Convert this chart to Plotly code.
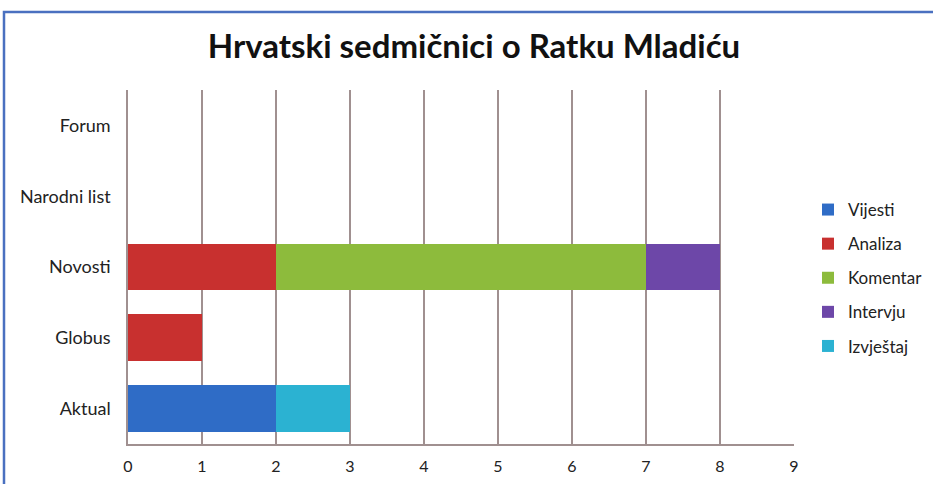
import plotly.graph_objects as go

categories = ["Aktual", "Globus", "Novosti", "Narodni list", "Forum"]
series_names = ["Vijesti", "Analiza", "Komentar", "Intervju", "Izvještaj"]
vijesti = [2, 0, 0, 0, 0]
analiza = [0, 1, 2, 0, 0]
komentar = [0, 0, 5, 0, 0]
intervju = [0, 0, 1, 0, 0]
izvjestaj = [1, 0, 0, 0, 0]
x_ticks = [0, 1, 2, 3, 4, 5, 6, 7, 8, 9]
title_text = "Hrvatski sedmičnici o Ratku Mladiću"

series_values = [vijesti, analiza, komentar, intervju, izvjestaj]
colors = ["#2f6cc6", "#c8302f", "#8dbb3c", "#6d47a8", "#2bb2d2"]

FONT = "Lato"
W, H = 933, 484
L, R, T, B = 128, 0, 90, 40
PW = W - L - R          # paper width
PH = H - T - B          # paper height
plot_right = 794

def px_x(X):
    return (X - L) / PW

def px_y(Y):
    return (H - B - Y) / PH

fig = go.Figure()
for name, vals, col in zip(series_names, series_values, colors):
    fig.add_trace(go.Bar(
        y=categories, x=vals, name=name, orientation="h", legendgroup=name,
        marker=dict(color=col, line=dict(width=0)),
    ))

fig.update_layout(
    width=W, height=H,
    barmode="stack", bargap=0.34,
    paper_bgcolor="white", plot_bgcolor="white",
    margin=dict(l=L, r=R, t=T, b=B),
    title=dict(text=f"<b>{title_text}</b>", x=0.508, xanchor="center", y=0.905, yanchor="middle",
               font=dict(family=FONT, size=33, color="#111111")),
    font=dict(family=FONT, size=17, color="#222222"),
    legend=dict(x=px_x(808), y=px_y(278), xanchor="left", yanchor="middle", traceorder="grouped",
                font=dict(family=FONT, size=17, color="#222222"), borderwidth=0,
                itemwidth=30, tracegroupgap=9, bgcolor="rgba(0,0,0,0)"),
    showlegend=True,
    xaxis=dict(domain=[0, px_x(plot_right)], range=[0, 9], tickvals=x_ticks, showgrid=True,
               gridcolor="#a09090", gridwidth=1.5, automargin=False,
               showline=True, linecolor="#a09090", linewidth=1.5, zeroline=False,
               ticks="", ticklabelstandoff=7, tickfont=dict(size=16, color="#222222")),
    yaxis=dict(showgrid=False, showline=True, linecolor="#a09090", linewidth=1.5, ticks="",
               automargin=False, ticklabelstandoff=12, tickfont=dict(size=18, color="#222222")),
    shapes=[dict(type="rect", xref="paper", yref="paper", x0=px_x(4), x1=px_x(960), y0=px_y(520),
                 y1=px_y(12), line=dict(color="#4a70c0", width=2.5), fillcolor="rgba(0,0,0,0)",
                 layer="above")],
)

fig.write_html("out.html", config={"displayModeBar": False},
               post_script="document.body.style.margin='0';")
